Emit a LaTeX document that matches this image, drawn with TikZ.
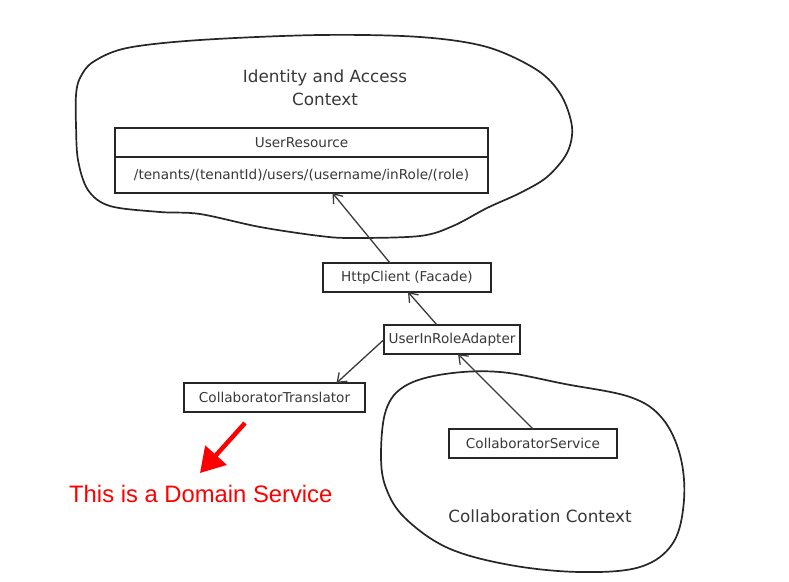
\documentclass[tikz,border=0pt]{standalone}
\usepackage{fontspec}
\setmainfont{DejaVu Sans}
\newfontfamily\notefont{Liberation Sans}
\usepackage{xcolor}
\usepackage{tikz}
\usetikzlibrary{shapes,arrows.meta,positioning,calc}
\definecolor{boxgray}{HTML}{262626}
\definecolor{textgray}{HTML}{383838}
\definecolor{linegray}{HTML}{3A3A3A}
\tikzset{
block/.style = {draw=boxgray, line width=1.8pt, fill=white, rectangle, inner sep=0pt, outer sep=0pt, text=textgray, font=\fontsize{13.6}{16}\selectfont},
cloud/.style = {draw=boxgray, line width=1.7pt},
title/.style = {text=textgray, font=\fontsize{16.8}{23}\selectfont, align=center},
link/.style = {draw=linegray, line width=1.3pt, -{Straight Barb[length=8pt,width=12pt]}},
note/.style = {text=red, font=\notefont\fontsize{23.8}{28}\selectfont, inner sep=0pt},
}
\begin{document}
\begin{tikzpicture}[x=1pt,y=-1pt]
    \useasboundingbox (0,0) rectangle (789,581);
    % bounded contexts
    \draw[cloud] plot[smooth cycle, tension=0.55] coordinates {(76,95) (80,78) (93,62) (127,48) (200,40) (320,35) (420,37) (487,47) (537,70) (561,95) (572,127) (567,153) (547,177) (520,193) (487,208) (453,226) (420,236) (353,238) (320,236) (260,227) (200,214) (160,212) (110,206) (88,190) (78,160) (76,125)};
    \draw[cloud] plot[smooth cycle, tension=0.6] coordinates {(381,455) (386,410) (405,386) (445,374) (500,372) (565,384) (630,397) (662,418) (680,455) (684,500) (673,543) (640,567) (580,572) (510,565) (448,548) (405,518) (386,488)};
    \node [title] (iamctx) at (325,88) {Identity and Access\\Context};
    \node [title] (collabctx) at (540,516) {Collaboration Context};

    \node [block, minimum width=373pt, minimum height=29pt] (userres) at (301.5,142.5) {UserResource};
    \node [block, minimum width=373pt, minimum height=36pt, below=0pt of userres] (userpath) {/tenants/(tenantId)/users/(username/inRole/(role)};
    \node [block, minimum width=168pt, minimum height=29pt] (http) at (407,277.5) {HttpClient (Facade)};
    \node [block, minimum width=136pt, minimum height=29pt] (adapter) at (452,339.5) {UserInRoleAdapter};
    \node [block, minimum width=181pt, minimum height=29pt] (translator) at (274.5,397.5) {CollaboratorTranslator};
    \node [block, minimum width=168pt, minimum height=29pt] (service) at (533,443.5) {CollaboratorService};

    \draw [link] ([xshift=-17pt]http.north) -- ([xshift=31pt]userpath.south);
    \draw [link] ([xshift=-15pt]adapter.north) -- ([xshift=1pt]http.south);
    \draw [link] (adapter.west) -- ([xshift=62pt]translator.north);
    \draw [link] (service.north) -- ([xshift=6pt]adapter.south);

    % note
    \node [note, anchor=base west] (domnote) at (69,502) {This is a Domain Service};
    \coordinate (notetail) at (245,423);
    \coordinate (notetip) at (200,473);
    \draw [red, line width=4.5pt, -{Triangle[length=24pt,width=28pt]}] (notetail) -- (notetip);
\end{tikzpicture}
\end{document}
